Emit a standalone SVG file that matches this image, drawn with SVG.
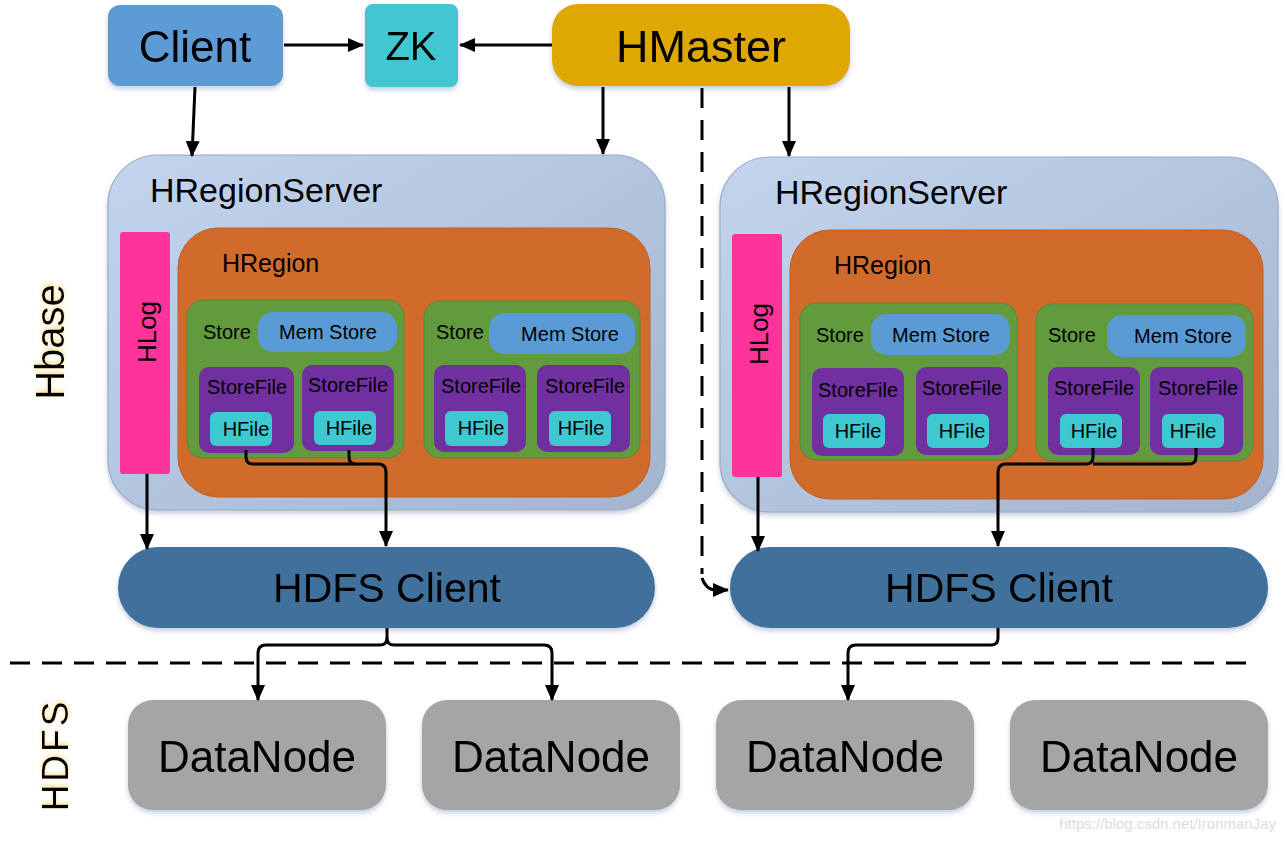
<svg xmlns="http://www.w3.org/2000/svg" width="1286" height="842" viewBox="0 0 1286 842">
<defs>
<linearGradient id="srvGrad" x1="0" y1="0" x2="1" y2="1">
<stop offset="0" stop-color="#c3d5ee"/>
<stop offset="1" stop-color="#a4b4cf"/>
</linearGradient>
<filter id="sh" x="-10%" y="-10%" width="120%" height="130%">
<feDropShadow dx="0" dy="3" stdDeviation="2.5" flood-color="#7f93b5" flood-opacity="0.45"/>
</filter>
<filter id="glow" x="-30%" y="-30%" width="160%" height="160%">
<feDropShadow dx="2" dy="0" stdDeviation="2" flood-color="#f5c842" flood-opacity="0.6"/>
</filter>
<marker id="arr" viewBox="0 0 16 14" refX="15" refY="7" markerWidth="16" markerHeight="14" markerUnits="userSpaceOnUse" orient="auto">
<path d="M0,0 L16,7 L0,14 Z" fill="#000"/>
</marker>
</defs>
<style>
text{font-family:"Liberation Sans",Arial,sans-serif;fill:#000}
.c{text-anchor:middle;dominant-baseline:central}
.client{fill:#5b9bd5}
.zk{fill:#3fc7d0}
.master{fill:#dfa800}
.srv{fill:url(#srvGrad);stroke:#9aacc9;stroke-width:1.2}
.hlog{fill:#ff3399}
.region{fill:#d06b2b;stroke:#c06020;stroke-width:1}
.store{fill:#629a3e;stroke:#568a35;stroke-width:1}
.mem{fill:#5b9bd5}
.sf{fill:#7030a0}
.hf{fill:#3ec8d0}
.hdfs{fill:#41719c}
.dn{fill:#a5a5a5}
.ln{fill:none;stroke:#000;stroke-width:3}
.dash{fill:none;stroke:#000;stroke-width:3;stroke-dasharray:20 12}
</style>

<g id="labels">
<text class="c" transform="translate(50,342) rotate(-90)" font-size="40" filter="url(#glow)">Hbase</text>
<text class="c" transform="translate(55,755) rotate(-90)" font-size="37" letter-spacing="3" filter="url(#glow)">HDFS</text>
</g>

<g id="client" filter="url(#sh)">
<rect class="client" x="108" y="5" width="175" height="81" rx="12"/>
<text class="c" x="195" y="46" font-size="44">Client</text>
</g>
<g id="zk" filter="url(#sh)">
<rect class="zk" x="365" y="4" width="93" height="83" rx="8"/>
<text class="c" x="411" y="46" font-size="40">ZK</text>
</g>
<g id="hmaster" filter="url(#sh)">
<rect class="master" x="552" y="4" width="298" height="82" rx="26"/>
<text class="c" x="701" y="46" font-size="45">HMaster</text>
</g>

<g id="regionserver1">
<rect class="srv" x="108" y="155" width="557" height="355" rx="50" filter="url(#sh)"/>
<text x="150" y="202" font-size="34">HRegionServer</text>
</g>
<g id="hlog1">
<rect class="hlog" x="120" y="232" width="50" height="242" rx="3"/>
<text class="c" transform="translate(147,332) rotate(-90)" font-size="26">HLog</text>
</g>
<g id="hregion1">
<rect class="region" x="178" y="228" width="472" height="269" rx="40"/>
<text x="222" y="272" font-size="25">HRegion</text>
</g>
<g id="store1a">
<rect class="store" x="187" y="300" width="217" height="158" rx="16"/>
<text x="203" y="339" font-size="20">Store</text>
<rect class="mem" x="258" y="312" width="139" height="40" rx="15"/>
<text class="c" x="328" y="332" font-size="20">Mem Store</text>
<rect class="sf" x="199" y="367" width="95" height="86" rx="10"/>
<text class="c" x="247" y="387" font-size="20">StoreFile</text>
<rect class="hf" x="210" y="412" width="62" height="34" rx="6"/>
<text class="c" x="246" y="429" font-size="20">HFile</text>
<rect class="sf" x="302" y="365" width="92" height="86" rx="10"/>
<text class="c" x="348" y="385" font-size="20">StoreFile</text>
<rect class="hf" x="314" y="411" width="62" height="34" rx="6"/>
<text class="c" x="349" y="428" font-size="20">HFile</text>
</g>
<g id="store1b">
<rect class="store" x="424" y="301" width="216" height="157" rx="16"/>
<text x="436" y="339" font-size="20">Store</text>
<rect class="mem" x="489" y="313" width="146" height="41" rx="15"/>
<text class="c" x="570" y="334" font-size="20">Mem Store</text>
<rect class="sf" x="434" y="365" width="92" height="87" rx="10"/>
<text class="c" x="481" y="386" font-size="20">StoreFile</text>
<rect class="hf" x="445" y="411" width="63" height="35" rx="6"/>
<text class="c" x="481" y="428" font-size="20">HFile</text>
<rect class="sf" x="537" y="365" width="93" height="87" rx="10"/>
<text class="c" x="585" y="386" font-size="20">StoreFile</text>
<rect class="hf" x="549" y="411" width="62" height="35" rx="6"/>
<text class="c" x="581" y="428" font-size="20">HFile</text>
</g>

<g id="regionserver2">
<rect class="srv" x="720" y="157" width="558" height="355" rx="50" filter="url(#sh)"/>
<text x="775" y="204" font-size="34">HRegionServer</text>
</g>
<g id="hlog2">
<rect class="hlog" x="732" y="234" width="50" height="243" rx="3"/>
<text class="c" transform="translate(759,334) rotate(-90)" font-size="26">HLog</text>
</g>
<g id="hregion2">
<rect class="region" x="790" y="230" width="473" height="269" rx="40"/>
<text x="834" y="274" font-size="25">HRegion</text>
</g>
<g id="store2a">
<rect class="store" x="800" y="303" width="217" height="157" rx="16"/>
<text x="816" y="342" font-size="20">Store</text>
<rect class="mem" x="871" y="314" width="139" height="41" rx="15"/>
<text class="c" x="941" y="335" font-size="20">Mem Store</text>
<rect class="sf" x="812" y="368" width="92" height="88" rx="10"/>
<text class="c" x="858" y="390" font-size="20">StoreFile</text>
<rect class="hf" x="823" y="414" width="62" height="34" rx="6"/>
<text class="c" x="858" y="431" font-size="20">HFile</text>
<rect class="sf" x="916" y="367" width="92" height="88" rx="10"/>
<text class="c" x="962" y="388" font-size="20">StoreFile</text>
<rect class="hf" x="927" y="414" width="62" height="34" rx="6"/>
<text class="c" x="962" y="431" font-size="20">HFile</text>
</g>
<g id="store2b">
<rect class="store" x="1036" y="304" width="217" height="157" rx="16"/>
<text x="1048" y="342" font-size="20">Store</text>
<rect class="mem" x="1107" y="315" width="139" height="42" rx="15"/>
<text class="c" x="1183" y="336" font-size="20">Mem Store</text>
<rect class="sf" x="1048" y="367" width="92" height="88" rx="10"/>
<text class="c" x="1094" y="388" font-size="20">StoreFile</text>
<rect class="hf" x="1060" y="414" width="62" height="34" rx="6"/>
<text class="c" x="1094" y="431" font-size="20">HFile</text>
<rect class="sf" x="1150" y="367" width="93" height="88" rx="10"/>
<text class="c" x="1198" y="388" font-size="20">StoreFile</text>
<rect class="hf" x="1162" y="414" width="62" height="34" rx="6"/>
<text class="c" x="1193" y="431" font-size="20">HFile</text>
</g>

<g id="hdfsclient1" filter="url(#sh)">
<rect class="hdfs" x="118" y="547" width="537" height="81" rx="40"/>
<text class="c" x="387" y="588" font-size="41">HDFS Client</text>
</g>
<g id="hdfsclient2" filter="url(#sh)">
<rect class="hdfs" x="730" y="547" width="538" height="81" rx="40"/>
<text class="c" x="999" y="588" font-size="41">HDFS Client</text>
</g>

<g id="datanode1" filter="url(#sh)">
<rect class="dn" x="128" y="700" width="258" height="110" rx="25"/>
<text class="c" x="257" y="756" font-size="44">DataNode</text>
</g>
<g id="datanode2" filter="url(#sh)">
<rect class="dn" x="422" y="700" width="258" height="110" rx="25"/>
<text class="c" x="551" y="756" font-size="44">DataNode</text>
</g>
<g id="datanode3" filter="url(#sh)">
<rect class="dn" x="716" y="700" width="258" height="110" rx="25"/>
<text class="c" x="845" y="756" font-size="44">DataNode</text>
</g>
<g id="datanode4" filter="url(#sh)">
<rect class="dn" x="1010" y="700" width="258" height="110" rx="25"/>
<text class="c" x="1139" y="756" font-size="44">DataNode</text>
</g>

<g id="connectors">
<path class="ln" d="M284,45 H363" marker-end="url(#arr)"/>
<path class="ln" d="M552,45 H460" marker-end="url(#arr)"/>
<path class="ln" d="M195,87 L192,156" marker-end="url(#arr)"/>
<path class="ln" d="M603,87 V154" marker-end="url(#arr)"/>
<path class="ln" d="M789,87 V156" marker-end="url(#arr)"/>
<path class="dash" d="M702,88 V574"/>
<path class="ln" d="M702,578 Q706,590 716,590 H728" marker-end="url(#arr)"/>
<path class="ln" d="M147,474 V549" marker-end="url(#arr)"/>
<path class="ln" d="M246,450 V457 Q246,464 253,464 H378 Q386,464 386,472 V546" marker-end="url(#arr)"/>
<path class="ln" d="M349,450 V457 Q349,464 356,464"/>
<path class="ln" d="M758,477 V551" marker-end="url(#arr)"/>
<path class="ln" d="M1093,448 V457 Q1093,464 1086,464 H1006 Q998,464 998,472 V546" marker-end="url(#arr)"/>
<path class="ln" d="M1196,448 V457 Q1196,464 1189,464 H1093"/>
<path class="ln" d="M387,628 V638 Q387,645 380,645 H266 Q258,645 258,653 V700" marker-end="url(#arr)"/>
<path class="ln" d="M387,638 Q387,645 394,645 H544 Q552,645 552,653 V700" marker-end="url(#arr)"/>
<path class="ln" d="M998,628 V638 Q998,645 991,645 H856 Q848,645 848,653 V700" marker-end="url(#arr)"/>
<path class="dash" d="M10,663 H1252" stroke-dasharray="22 12"/>
</g>

<text x="1276" y="829" font-size="15" text-anchor="end" style="fill:#dcdcdc">https://blog.csdn.net/IronmanJay</text>
</svg>
